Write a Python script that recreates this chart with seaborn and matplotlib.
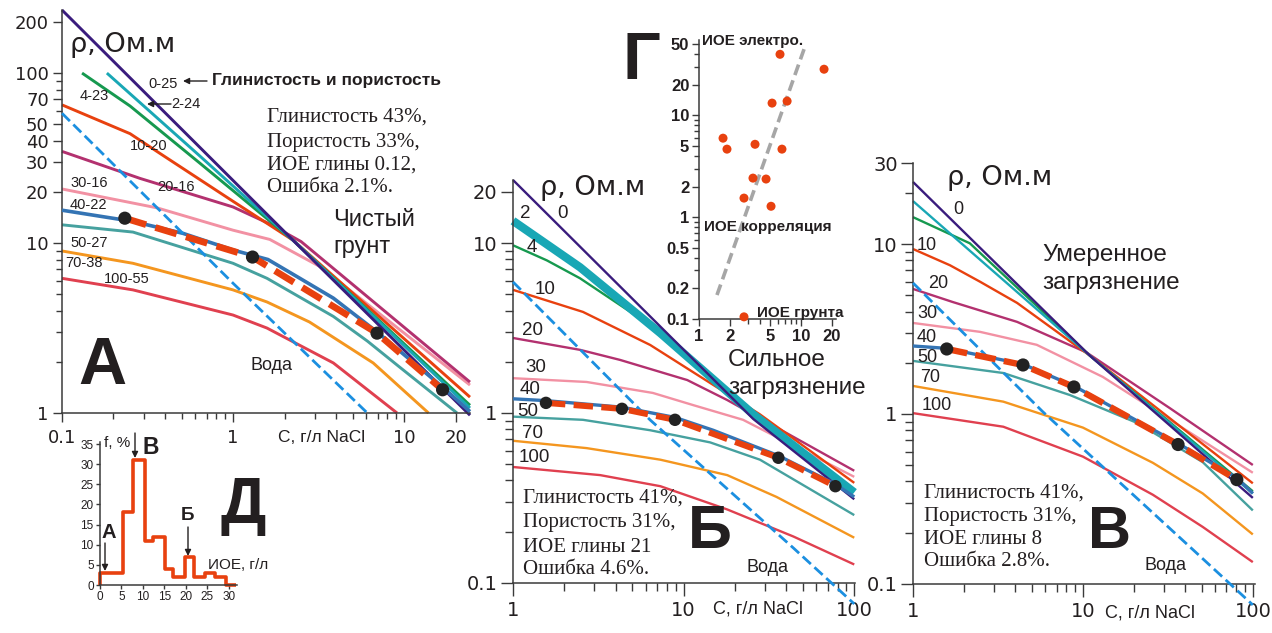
import matplotlib
matplotlib.use("Agg")
import matplotlib.pyplot as plt
from matplotlib.ticker import FixedLocator, FixedFormatter, NullFormatter
from matplotlib.patches import FancyArrowPatch
import seaborn as sns

# ---------------- data ----------------
# Panel A (clean soil): C, g/l NaCl  ->  rho, Ohm.m ; labels "clay-porosity"
A_C_0_25 = [0.1, 2.24, 24.3]
A_R_0_25 = [235, 10.4, 0.97]
A_C_2_24 = [0.183, 0.64, 2.24, 24.3]
A_R_2_24 = [100, 32.5, 10.4, 1.07]
A_C_4_23 = [0.131, 0.25, 0.64, 2.24, 24.3]
A_R_4_23 = [100, 64, 29.5, 10.4, 1.11]
A_C_10_20 = [0.1, 0.25, 0.37, 1.0, 2.24, 24.3]
A_R_10_20 = [65, 44, 33.9, 17.6, 10.4, 1.24]
A_C_20_16 = [0.1, 0.286, 1.0, 1.6, 2.5, 24.3]
A_R_20_16 = [34.6, 24, 16.3, 13.1, 10.2, 1.52]
A_C_30_16 = [0.1, 0.36, 1.0, 1.64, 3.2, 24.3]
A_R_30_16 = [20.8, 16.1, 11.9, 10.5, 7.3, 1.46]
A_C_40_22 = [0.1, 0.26, 0.51, 1.0, 1.6, 2.46, 3.86, 6.95, 16.8, 24.3]
A_R_40_22 = [15.6, 13.4, 11.4, 9.1, 8.0, 6.2, 4.74, 3.0, 1.42, 1.02]
A_C_50_27 = [0.1, 0.26, 1.0, 1.58, 2.46, 3.86, 6.1, 9.5, 20.4]
A_R_50_27 = [12.8, 11.6, 7.6, 6.2, 4.8, 3.7, 2.65, 1.85, 1.0]
A_C_70_38 = [0.1, 0.26, 1.0, 1.58, 2.8, 6.6, 13.9]
A_R_70_38 = [8.98, 7.6, 5.3, 4.5, 3.43, 1.97, 1.0]
A_C_100_55 = [0.1, 0.26, 1.0, 1.58, 3.86, 9.1]
A_R_100_55 = [6.2, 5.3, 3.77, 3.16, 1.97, 1.0]
A_C_WATER = [0.1, 1.0, 6.1]
A_R_WATER = [58, 5.8, 1.0]
A_C_FIT = [0.233, 1.3, 6.95, 16.8]
A_R_FIT = [14.0, 8.27, 2.95, 1.37]

# Panel Б (strong contamination): clay content 0..100 %
B_C_0 = [1, 25.6, 100]
B_R_0 = [23.5, 0.92, 0.31]
B_C_2 = [1, 2.47, 7.3, 25.6, 100]
B_R_2 = [13.5, 7.2, 2.95, 0.98, 0.34]
B_C_4 = [1, 1.58, 2.47, 6.1, 25.6, 100]
B_R_4 = [9.7, 7.9, 6.2, 3.38, 0.98, 0.35]
B_C_10 = [1, 2.57, 6.37, 14.3, 28, 100]
B_R_10 = [5.3, 3.93, 2.51, 1.5, 0.98, 0.387]
B_C_20 = [1, 2.47, 4.24, 10.5, 18, 28, 100]
B_R_20 = [2.76, 2.35, 2.05, 1.56, 1.19, 0.93, 0.456]
B_C_30 = [1, 2.7, 6.6, 11.4, 22.3, 100]
B_R_30 = [1.6, 1.52, 1.31, 1.11, 0.91, 0.42]
B_C_40 = [1, 1.56, 4.35, 8.9, 14.9, 35.9, 77.5, 100]
B_R_40 = [1.21, 1.18, 1.08, 0.94, 0.79, 0.56, 0.38, 0.32]
B_C_50 = [1, 2.57, 6.37, 14.3, 28, 100]
B_R_50 = [0.95, 0.91, 0.79, 0.67, 0.53, 0.25]
B_C_70 = [1, 2.7, 7.3, 18, 35, 100]
B_R_70 = [0.685, 0.62, 0.53, 0.43, 0.32, 0.184]
B_C_100 = [1, 3.24, 7.3, 18, 44, 100]
B_R_100 = [0.48, 0.43, 0.37, 0.27, 0.187, 0.128]
B_C_WATER = [1, 6.35, 44, 100]
B_R_WATER = [5.9, 0.91, 0.16, 0.075]
B_C_FIT = [1.56, 4.35, 8.9, 35.9, 77.5]
B_R_FIT = [1.145, 1.056, 0.91, 0.544, 0.37]

# Panel В (moderate contamination)
V_C_0 = [1, 11, 100]
V_R_0 = [23.2, 2.2, 0.32]
V_C_2 = [1, 11, 100]
V_R_2 = [17.9, 2.2, 0.34]
V_C_4 = [1, 2.16, 11, 100]
V_R_4 = [14.4, 10.1, 2.2, 0.35]
V_C_10 = [1, 1.65, 2.48, 4.1, 11, 100]
V_R_10 = [9.35, 7.5, 6.0, 4.5, 2.2, 0.39]
V_C_20 = [1, 1.72, 4.1, 10.5, 32.5, 100]
V_R_20 = [5.44, 4.55, 3.48, 2.3, 1.08, 0.5]
V_C_30 = [1, 2.48, 5.35, 13.1, 100]
V_R_30 = [3.43, 3.04, 2.55, 1.65, 0.45]
V_C_40 = [1, 1.58, 4.44, 8.85, 36.3, 80.5, 100]
V_R_40 = [2.51, 2.43, 1.96, 1.46, 0.67, 0.42, 0.34]
V_C_50 = [1, 3.4, 8.4, 20.8, 50.7, 100]
V_R_50 = [2.05, 1.74, 1.29, 0.885, 0.52, 0.27]
V_C_70 = [1, 3.4, 10, 25.8, 50.7, 100]
V_R_70 = [1.46, 1.18, 0.83, 0.515, 0.34, 0.195]
V_C_100 = [1, 3.4, 10, 25.8, 50.7, 100]
V_R_100 = [1.01, 0.84, 0.56, 0.334, 0.216, 0.134]
V_C_WATER = [1, 5.8, 44, 100]
V_R_WATER = [5.9, 1.03, 0.16, 0.075]
V_C_FIT = [1.58, 4.44, 8.85, 36.3, 80.5]
V_R_FIT = [2.41, 1.94, 1.44, 0.66, 0.41]

# Panel Г: CEC from soil vs CEC from electrical data
CEC_SOIL = [6.22, 16.8, 5.2, 7.3, 1.72, 1.88, 3.54, 6.5, 3.38, 4.54, 2.76, 5.08, 2.76]
CEC_ELEC = [39.8, 28.4, 13.2, 13.8, 5.97, 4.66, 5.2, 4.66, 2.42, 2.37, 1.54, 1.28, 0.105]
TREND_X = [1.5, 10.7]
TREND_Y = [0.172, 44.7]

# Panel Д: histogram of CEC, g/l
HIST_EDGES = [0, 5.4, 7.6, 10.4, 12.4, 15.1, 17.0, 19.7, 22.0, 24.4, 26.7, 29.4, 31.7]
HIST_FREQ = [3, 18, 31, 11, 12, 4, 2, 7, 2, 3, 2, 0]

# ---------------- style ----------------
sns.set_theme(style="ticks")
plt.rcParams["font.family"] = ["Liberation Sans", "DejaVu Sans"]
plt.rcParams["lines.scale_dashes"] = False
plt.rcParams["lines.solid_capstyle"] = "butt"

W, H = 1272, 633
INK = "#231f20"
COL = {
    "0": "#3a1c7d", "2": "#19a7b5", "4": "#16994f", "10": "#e8410f",
    "20": "#b3316f", "30": "#f291a3", "40": "#3474b4", "50": "#46a19f",
    "70": "#f4961f", "100": "#e0404f", "water": "#1b8fe0", "fit": "#e8410f",
}
SANS = ["Liberation Sans", "DejaVu Sans"]
WIDE = ["DejaVu Sans"]
SERIF = ["Liberation Serif", "DejaVu Serif"]

fig = plt.figure(figsize=(W / 100, H / 100), dpi=100)
fig.patch.set_facecolor("white")


def box(l, t, r, b):
    ax = fig.add_axes([l / W, 1 - b / H, (r - l) / W, (b - t) / H])
    ax.set_facecolor("none")
    return ax


def ftext(x, y, s, size, family=SANS, **kw):
    kw.setdefault("ha", "left")
    kw.setdefault("va", "center")
    kw.setdefault("color", INK)
    fig.text(x / W, 1 - y / H, s, fontsize=size, family=family, **kw)


def farrow(x0, y0, x1, y1):
    fig.add_artist(FancyArrowPatch((x0 / W, 1 - y0 / H), (x1 / W, 1 - y1 / H),
                                   transform=fig.transFigure, arrowstyle="-|>",
                                   mutation_scale=9, lw=1.0, color=INK,
                                   shrinkA=0, shrinkB=0))


def curve(ax, c, r, color, lw, dashes=None, z=2):
    sns.lineplot(x=c, y=r, ax=ax, color=color, lw=lw, estimator=None,
                 sort=False, legend=False, zorder=z)
    line = ax.lines[-1]
    if dashes:
        line.set_dashes(dashes)
    line.set_clip_on(False)
    return line


def dots(ax, c, r, s=90):
    sns.scatterplot(x=c, y=r, ax=ax, color="#222222", s=s, edgecolor="none",
                    zorder=6, legend=False, clip_on=False)


def style_axes(ax, size, family=WIDE, weight="normal", major=7, minor=4, pad=3):
    for side in ("top", "right"):
        ax.spines[side].set_visible(False)
    for side in ("left", "bottom"):
        ax.spines[side].set_linewidth(1.1)
        ax.spines[side].set_color("#3a3a3a")
    ax.tick_params(which="both", direction="out", color="#3a3a3a", width=1.0,
                   labelcolor=INK, labelsize=size, pad=pad)
    ax.tick_params(which="major", length=major)
    ax.tick_params(which="minor", length=minor)
    for lab in ax.get_xticklabels() + ax.get_yticklabels():
        lab.set_family(family)
        lab.set_weight(weight)
    ax.set_xlabel("")
    ax.set_ylabel("")
    ax.grid(False)


def set_ticks(axis, major, labels, minor):
    axis.set_major_locator(FixedLocator(major))
    axis.set_major_formatter(FixedFormatter(labels))
    axis.set_minor_locator(FixedLocator(minor))
    axis.set_minor_formatter(NullFormatter())


# ---------------- Panel A ----------------
axA = box(62, 10, 470, 413)
axA.set_xscale("log")
axA.set_yscale("log")
axA.set_xlim(0.1, 24.3)
axA.set_ylim(1, 235)
lwA = 2.1
for c, r, k in [(A_C_100_55, A_R_100_55, "100"), (A_C_70_38, A_R_70_38, "70"),
                (A_C_50_27, A_R_50_27, "50"), (A_C_30_16, A_R_30_16, "30"),
                (A_C_20_16, A_R_20_16, "20"), (A_C_10_20, A_R_10_20, "10"),
                (A_C_4_23, A_R_4_23, "4"), (A_C_2_24, A_R_2_24, "2"),
                (A_C_0_25, A_R_0_25, "0")]:
    curve(axA, c, r, COL[k], lwA)
curve(axA, A_C_40_22, A_R_40_22, COL["40"], 2.6, z=3)
curve(axA, A_C_WATER, A_R_WATER, COL["water"], 2.0, dashes=(8, 3.5), z=4)
curve(axA, A_C_FIT, A_R_FIT, COL["fit"], 4.8, dashes=(16, 7), z=5)
dots(axA, A_C_FIT, A_R_FIT)
set_ticks(axA.yaxis, [1, 10, 20, 30, 40, 50, 70, 100, 200],
          ["1", "10", "20", "30", "40", "50", "70", "100", "200"],
          [2, 3, 4, 5, 6, 7, 8, 9, 60, 80, 90])
set_ticks(axA.xaxis, [0.1, 1, 10, 20], ["0.1", "1", "10", "20"],
          [0.2, 0.3, 0.4, 0.5, 0.6, 0.7, 0.8, 0.9, 2, 3, 4, 5, 6, 7, 8, 9])
style_axes(axA, 13, major=6.5, minor=4, pad=3)
axA.tick_params(axis="x", pad=5)

ftext(70, 45, "ρ, Ом.м", 19.5, family=WIDE)
ftext(148, 84, "0-25", 10.5)
farrow(207, 81, 183, 81)
ftext(212, 81, "Глинистость и пористость", 12.5, weight="bold")
ftext(171, 104, "2-24", 10.5)
farrow(171, 104, 147, 104)
ftext(80, 96, "4-23", 10.5)
ftext(130, 146, "10-20", 10.5)
ftext(157, 187, "20-16", 10.5)
ftext(70, 183, "30-16", 10.5)
ftext(70, 205, "40-22", 10.5)
ftext(70, 243, "50-27", 10.5)
ftext(65, 263, "70-38", 10.5)
ftext(104, 279, "100-55", 10.5)
for yy, s in zip([117, 142, 165, 188],
                 ["Глинистость 43%,", "Пористость 33%,", "ИОЕ глины 0.12,", "Ошибка 2.1%."]):
    ftext(267, yy, s, 15, family=SERIF)
ftext(333, 220, "Чистый", 17)
ftext(333, 247, "грунт", 17)
ftext(102, 367, "А", 48, weight="bold", ha="center")
ftext(250, 366, "Вода", 13)
ftext(278, 437, "C, г/л NaCl", 12.5)

# ---------------- Panel Д (histogram) ----------------
axD = box(100, 442, 237, 585)
hx = [0] + HIST_EDGES
hy = [0] + HIST_FREQ + [HIST_FREQ[-1]]
sns.lineplot(x=hx, y=hy, ax=axD, color=COL["fit"], lw=2.6, estimator=None,
             sort=False, legend=False, drawstyle="steps-post")
axD.lines[-1].set_clip_on(False)
axD.set_xlim(0, 31.9)
axD.set_ylim(0, 35.5)
axD.set_xticks([0, 5, 10, 15, 20, 25, 30])
axD.set_yticks([0, 5, 10, 15, 20, 25, 30, 35])
style_axes(axD, 8.5, family=SANS, major=3, minor=0, pad=1.5)
ftext(104, 443, "f, %", 11)
ftext(142, 448, "В", 16.5, weight="bold")
farrow(135, 433, 135, 458)
ftext(102, 533, "А", 14.5, weight="bold")
farrow(105, 543, 105, 571)
ftext(181, 515, "Б", 13.5, weight="bold")
farrow(188, 527, 188, 556)
ftext(208, 565, "ИОЕ, г/л", 11)
ftext(243, 506, "Д", 46, weight="bold", ha="center")

# ---------------- Panel Б ----------------
axB = box(513, 180, 855, 609)
axB.set_xscale("log")
axB.set_yscale("log")
axB.set_xlim(1, 101)
axB.set_ylim(0.07, 23.5)
lwB = 1.7
for c, r, k in [(B_C_100, B_R_100, "100"), (B_C_70, B_R_70, "70"),
                (B_C_50, B_R_50, "50"), (B_C_30, B_R_30, "30"),
                (B_C_20, B_R_20, "20"), (B_C_10, B_R_10, "10"),
                (B_C_4, B_R_4, "4")]:
    curve(axB, c, r, COL[k], lwB)
curve(axB, B_C_2, B_R_2, COL["2"], 6.0)
curve(axB, B_C_0, B_R_0, COL["0"], 1.7)
curve(axB, B_C_40, B_R_40, COL["40"], 2.4, z=3)
curve(axB, B_C_WATER, B_R_WATER, COL["water"], 2.0, dashes=(8, 3.5), z=4)
curve(axB, B_C_FIT, B_R_FIT, COL["fit"], 4.4, dashes=(14, 6), z=5)
dots(axB, B_C_FIT, B_R_FIT, s=80)
axB.spines["bottom"].set_position(("data", 0.1))
axB.spines["left"].set_bounds(0.1, 23.5)
set_ticks(axB.yaxis, [0.1, 1, 10, 20], ["0.1", "1", "10", "20"],
          [0.2, 0.3, 0.4, 0.5, 0.6, 0.7, 0.8, 0.9, 2, 3, 4, 5, 6, 7, 8, 9])
set_ticks(axB.xaxis, [1, 10, 100], ["1", "10", "100"],
          [2, 3, 4, 5, 6, 7, 8, 9, 20, 30, 40, 50, 60, 70, 80, 90])
style_axes(axB, 14, major=9, minor=5.5, pad=2)
axB.tick_params(axis="x", pad=4)

ftext(540, 188, "ρ, Ом.м", 19.5, family=WIDE)
for x, y, s in [(520, 213, "2"), (557, 213, "0"), (527, 247, "4"), (535, 290, "10"),
                (522, 330, "20"), (525, 368, "30"), (520, 390, "40"), (517, 412, "50"),
                (522, 433, "70"), (519, 457, "100")]:
    ftext(x, y, s, 13.5)
for yy, s in zip([498, 523, 547, 570],
                 ["Глинистость 41%,", "Пористость 31%,", "ИОЕ глины 21", "Ошибка 4.6%."]):
    ftext(523, yy, s, 15, family=SERIF)
ftext(710, 533, "Б", 44, weight="bold", ha="center")
ftext(747, 567, "Вода", 13)
ftext(728, 360, "Сильное", 17.5)
ftext(728, 388, "загрязнение", 17.5)
ftext(713, 609, "C, г/л NaCl", 13)

# ---------------- Panel Г (inset) ----------------
axG = box(699, 40, 836, 319)
axG.set_xscale("log")
axG.set_yscale("log")
axG.set_xlim(1, 22)
axG.set_ylim(0.1, 55)
curve(axG, TREND_X, TREND_Y, "#a6a6a6", 2.6, dashes=(8, 4))
sns.scatterplot(x=CEC_SOIL, y=CEC_ELEC, ax=axG, color=COL["fit"], s=42,
                edgecolor="none", zorder=5, legend=False, clip_on=False)
set_ticks(axG.yaxis, [0.1, 0.2, 0.5, 1, 2, 5, 10, 20, 50],
          ["0.1", "0.2", "0.5", "1", "2", "5", "10", "20", "50"],
          [0.3, 0.4, 0.6, 0.7, 0.8, 0.9, 3, 4, 6, 7, 8, 9, 30, 40])
set_ticks(axG.xaxis, [1, 2, 5, 10, 20], ["1", "2", "5", "10", "20"],
          [3, 4, 6, 7, 8, 9])
style_axes(axG, 12, family=SANS, weight="bold", major=5, minor=3.5, pad=2)
ftext(641, 62, "Г", 48, weight="bold", ha="center")
ftext(702, 41, "ИОЕ электро.", 11, weight="bold")
ftext(704, 227, "ИОЕ корреляция", 11, weight="bold")
ftext(757, 313, "ИОЕ грунта", 11, weight="bold")

# ---------------- Panel В ----------------
axV = box(913, 163, 1255, 610)
axV.set_xscale("log")
axV.set_yscale("log")
axV.set_xlim(1, 103)
axV.set_ylim(0.07, 30)
lwV = 1.7
for c, r, k in [(V_C_100, V_R_100, "100"), (V_C_70, V_R_70, "70"),
                (V_C_50, V_R_50, "50"), (V_C_30, V_R_30, "30"),
                (V_C_20, V_R_20, "20"), (V_C_10, V_R_10, "10"),
                (V_C_4, V_R_4, "4"), (V_C_2, V_R_2, "2"), (V_C_0, V_R_0, "0")]:
    curve(axV, c, r, COL[k], lwV)
curve(axV, V_C_40, V_R_40, COL["40"], 2.4, z=3)
curve(axV, V_C_WATER, V_R_WATER, COL["water"], 2.0, dashes=(8, 3.5), z=4)
curve(axV, V_C_FIT, V_R_FIT, COL["fit"], 4.6, dashes=(15, 6), z=5)
dots(axV, V_C_FIT, V_R_FIT, s=90)
axV.spines["bottom"].set_position(("data", 0.1))
axV.spines["left"].set_bounds(0.1, 30)
set_ticks(axV.yaxis, [0.1, 1, 10, 30], ["0.1", "1", "10", "30"],
          [0.2, 0.3, 0.4, 0.5, 0.6, 0.7, 0.8, 0.9, 2, 3, 4, 5, 6, 7, 8, 9, 20])
set_ticks(axV.xaxis, [1, 10, 100], ["1", "10", "100"],
          [2, 3, 4, 5, 6, 7, 8, 9, 20, 30, 40, 50, 60, 70, 80, 90])
style_axes(axV, 14, major=9, minor=5.5, pad=2)
axV.tick_params(axis="x", pad=4)

ftext(947, 178, "ρ, Ом.м", 19.5, family=WIDE)
for x, y, s in [(953, 210, "0"), (917, 245, "10"), (928, 283, "20"), (917, 314, "30"),
                (917, 337, "40"), (917, 358, "50"), (920, 378, "70"), (922, 405, "100")]:
    ftext(x, y, s, 13)
ftext(1042, 255, "Умеренное", 17.5)
ftext(1042, 283, "загрязнение", 17.5)
for yy, s in zip([493, 517, 539, 562],
                 ["Глинистость 41%,", "Пористость 31%,", "ИОЕ глины 8", "Ошибка 2.8%."]):
    ftext(924, yy, s, 15, family=SERIF)
ftext(1109, 533, "В", 43, weight="bold", ha="center")
ftext(1145, 565, "Вода", 13)
ftext(1105, 613, "C, г/л NaCl", 13)

fig.savefig("out.png", dpi=100, facecolor="white")
